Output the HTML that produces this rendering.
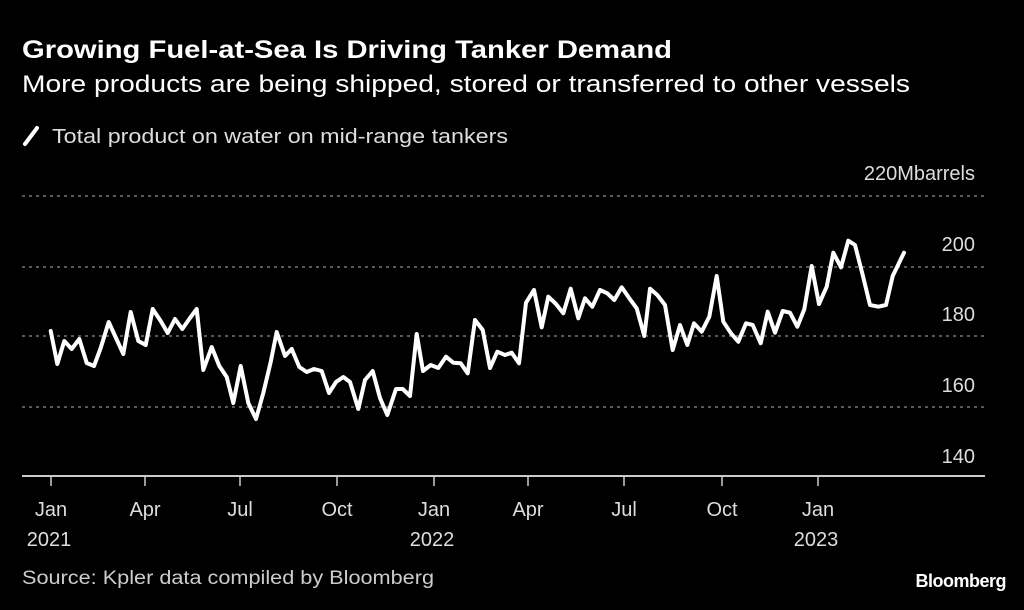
<!DOCTYPE html>
<html><head><meta charset="utf-8"><style>
html,body{margin:0;padding:0;background:#000;}
body{width:1024px;height:605px;overflow:hidden;font-family:"Liberation Sans",sans-serif;}
</style></head><body>
<svg width="1024" height="605" viewBox="0 0 1024 605" xmlns="http://www.w3.org/2000/svg" font-family="Liberation Sans, sans-serif">
<rect width="1024" height="605" fill="#000"/>
<text x="22" y="58" fill="#fff" font-size="25" font-weight="bold" textLength="650" lengthAdjust="spacingAndGlyphs">Growing Fuel-at-Sea Is Driving Tanker Demand</text>
<text x="22" y="92" fill="#fff" font-size="24" textLength="888" lengthAdjust="spacingAndGlyphs">More products are being shipped, stored or transferred to other vessels</text>
<line x1="25" y1="144" x2="37" y2="128" stroke="#fff" stroke-width="4" stroke-linecap="round"/>
<text x="52" y="143" fill="#ddd" font-size="20" textLength="456" lengthAdjust="spacingAndGlyphs">Total product on water on mid-range tankers</text>
<g stroke="#777" stroke-width="1.5" stroke-dasharray="3,4">
<line x1="22" y1="196" x2="985" y2="196"/>
<line x1="22" y1="267" x2="985" y2="267"/>
<line x1="22" y1="336" x2="985" y2="336"/>
<line x1="22" y1="407" x2="985" y2="407"/>
</g>
<line x1="22" y1="476" x2="985" y2="476" stroke="#ccc" stroke-width="2"/>
<g fill="#ddd" font-size="20" text-anchor="end">
<text x="975" y="180">220Mbarrels</text>
<text x="975" y="251">200</text>
<text x="975" y="321">180</text>
<text x="975" y="392">160</text>
<text x="975" y="463">140</text>
</g>
<g stroke="#ccc" stroke-width="1.5">
<line x1="51" y1="476" x2="51" y2="486"/><line x1="145" y1="476" x2="145" y2="486"/>
<line x1="240" y1="476" x2="240" y2="486"/><line x1="337" y1="476" x2="337" y2="486"/>
<line x1="434" y1="476" x2="434" y2="486"/><line x1="528" y1="476" x2="528" y2="486"/>
<line x1="624" y1="476" x2="624" y2="486"/><line x1="722" y1="476" x2="722" y2="486"/>
<line x1="818" y1="476" x2="818" y2="486"/>
</g>
<g fill="#ddd" font-size="20" text-anchor="middle">
<text x="51" y="516">Jan</text><text x="145" y="516">Apr</text><text x="240" y="516">Jul</text>
<text x="337" y="516">Oct</text><text x="434" y="516">Jan</text><text x="528" y="516">Apr</text>
<text x="624" y="516">Jul</text><text x="722" y="516">Oct</text><text x="818" y="516">Jan</text>
<text x="49" y="546">2021</text><text x="432" y="546">2022</text><text x="816" y="546">2023</text>
</g>
<text x="22" y="584" fill="#ccc" font-size="19" textLength="412" lengthAdjust="spacingAndGlyphs">Source: Kpler data compiled by Bloomberg</text>
<text x="1006" y="587" fill="#fff" font-size="18" font-weight="bold" text-anchor="end" letter-spacing="-0.5">Bloomberg</text>
<polyline fill="none" stroke="#fff" stroke-width="4" stroke-linejoin="round" stroke-linecap="round" points="
50.7,331 57.3,364 64.3,341 71.7,349 79.3,339 86.7,363 94,366 100.7,348 108.7,322 116,338 123.3,354 130.7,312 138.3,341 145.7,345 152.7,309 160.7,321 167.7,333 175,319 182.3,329 190,318 196.7,309 203.3,370 211.7,347 219.3,366 226.7,377 233.3,403 240.7,366 248.3,403 256,419 263.3,393 270.7,362 276.7,332 285,356 291.7,349 299.3,367 306.7,372 314,369 321.7,371 329,393 336,382 343.3,377 350,382 358.3,409 365,380 372.7,371 380,398 387.3,415 396,389 402.7,389 410,396 416.7,334 423,371 430.7,365 438.3,368 446,356.7 453.3,362.7 460.7,363.3 467.7,373.3 475,320 482.7,330 490,368 497.3,351.7 505,355 511.7,352.7 519,363.3 526,302.7 534,290 541.7,327.3 548.3,296.7 556,304 563.3,313.3 570.7,288.7 578.3,318.3 585,298.3 592.3,306.7 600,290 607.3,293.3 614.3,300 621.7,287.3 629.3,298.3 636.7,308.3 644.3,336 650,288.7 657.3,295 665,305 672.7,350 680,325 687.3,345 694,323.3 701.7,331.7 709.3,316.7 716.7,276 723.3,321.7 731,333.3 738.3,341.7 746,323.3 752.7,325 760.7,343.3 767.7,311.7 775,332.7 782.7,311 790,312.7 797.3,326.7 804.3,309.3 811.7,266 819,304 826.7,286.7 833.3,252.7 841,267.3 848.3,240.7 855,245 862.7,275 870,305 878.3,306.7 886,305 892.7,276 904,252.7"/>
</svg>
</body></html>
